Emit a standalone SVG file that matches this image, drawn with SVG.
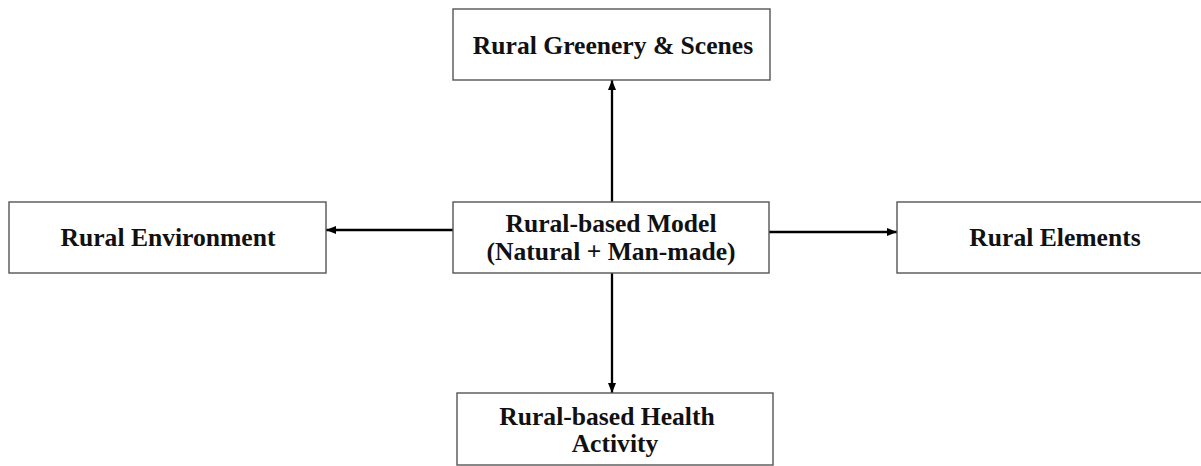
<svg xmlns="http://www.w3.org/2000/svg" width="1201" height="466" viewBox="0 0 1201 466">
<style>
.box{fill:#fff;stroke:#555;stroke-width:1.4}
.t{font-family:"Liberation Serif","Times New Roman",serif;font-weight:bold;font-size:25.6px;fill:#111;text-anchor:middle}
.c{stroke:#000;stroke-width:2.3;fill:none;marker-end:url(#ah)}
</style>
<defs>
<marker id="ah" markerUnits="userSpaceOnUse" markerWidth="10" markerHeight="8" refX="10" refY="4" orient="auto">
<path d="M0,0 L10,4 L0,8 Z" fill="#000"/>
</marker>
</defs>
<rect width="1201" height="466" fill="#fff"/>
<g id="connectors">
<line class="c" x1="612" y1="202" x2="612" y2="80"/>
<line class="c" x1="453" y1="230" x2="326" y2="230"/>
<line class="c" x1="769" y1="232" x2="897" y2="232"/>
<line class="c" x1="612" y1="273" x2="612" y2="393"/>
</g>
<g id="top">
<rect class="box" x="453" y="9" width="317" height="71"/>
<text class="t" x="613" y="54">Rural Greenery &amp; Scenes</text>
</g>
<g id="left">
<rect class="box" x="9" y="202" width="317" height="71"/>
<text class="t" x="168" y="246">Rural Environment</text>
</g>
<g id="center">
<rect class="box" x="453" y="202" width="316" height="71"/>
<text class="t" x="611" y="232">Rural-based Model</text>
<text class="t" x="611" y="260">(Natural + Man-made)</text>
</g>
<g id="right">
<rect class="box" x="897" y="202" width="316" height="71"/>
<text class="t" x="1055" y="246">Rural Elements</text>
</g>
<g id="bottom">
<rect class="box" x="457" y="393" width="316" height="72"/>
<text class="t" x="607" y="425">Rural-based Health</text>
<text class="t" x="615" y="452">Activity</text>
</g>
</svg>
